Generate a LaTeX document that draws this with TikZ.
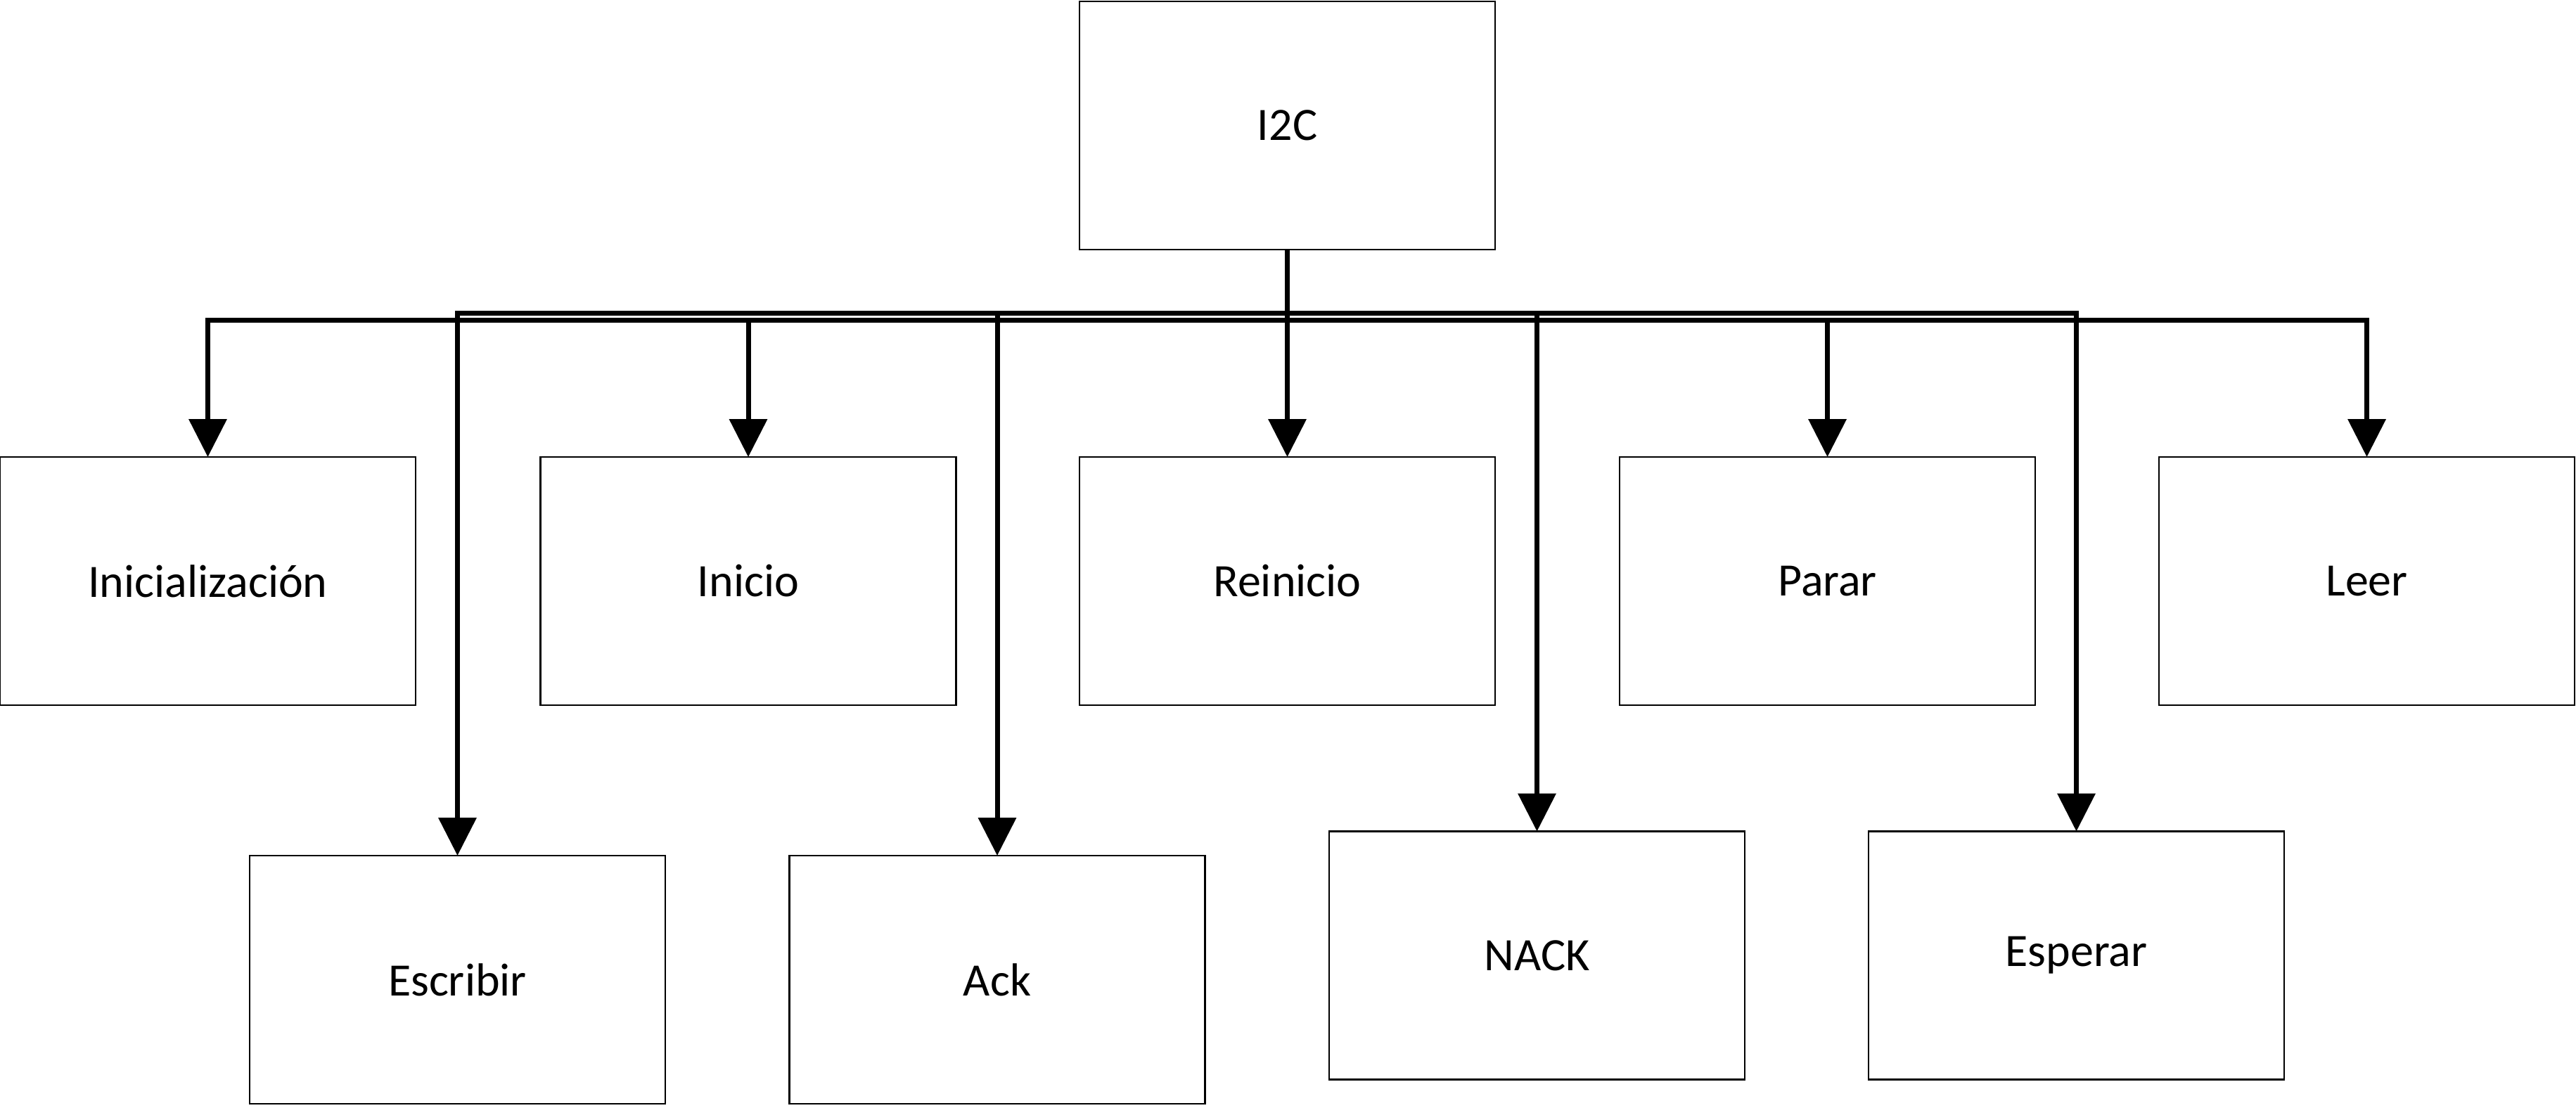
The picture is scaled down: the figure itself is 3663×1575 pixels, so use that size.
\documentclass[tikz,border=0pt]{standalone}
\usepackage{fontspec}
\setmainfont{Carlito}
\usetikzlibrary{arrows.meta}
\tikzset{
  box/.style={draw=black, line width=0.25pt, minimum width=59.1pt, minimum height=35.3pt,
              inner sep=0pt, outer sep=0pt, font=\fontsize{6.6}{8}\selectfont},
  conn/.style={draw=black, line width=0.7pt, -{Triangle[length=5.4pt,width=5.3pt]}}
}
\begin{document}
\begin{tikzpicture}[x=0.1pt,y=-0.1pt]
\useasboundingbox (0,0) rectangle (3663,1575);
\node[box] (i2c) at (1830.5,178.5) {I2C};
\node[box] (ini) at (295.5,826.5) {Inicialización};
\node[box] (inicio) at (1064,826.5) {Inicio};
\node[box] (rei) at (1830.5,826.5) {Reinicio};
\node[box] (par) at (2598.5,826.5) {Parar};
\node[box] (lee) at (3365.5,826.5) {Leer};
\node[box] (esc) at (650.5,1393.5) {Escribir};
\node[box] (ack) at (1418,1393.5) {Ack};
\node[box] (nack) at (2185.5,1359) {NACK};
\node[box] (esp) at (2952.5,1359) {Esperar};
\coordinate (busA) at (1830.5,455);
\coordinate (busB) at (1830.5,445);
\draw[conn] (i2c.south) -- (busA) -| (ini.north);
\draw[conn] (i2c.south) -- (busA) -| (inicio.north);
\draw[conn] (i2c.south) -- (rei.north);
\draw[conn] (i2c.south) -- (busA) -| (par.north);
\draw[conn] (i2c.south) -- (busA) -| (lee.north);
\draw[conn] (i2c.south) -- (busB) -| (esc.north);
\draw[conn] (i2c.south) -- (busB) -| (ack.north);
\draw[conn] (i2c.south) -- (busB) -| (nack.north);
\draw[conn] (i2c.south) -- (busB) -| (esp.north);
\end{tikzpicture}
\end{document}
